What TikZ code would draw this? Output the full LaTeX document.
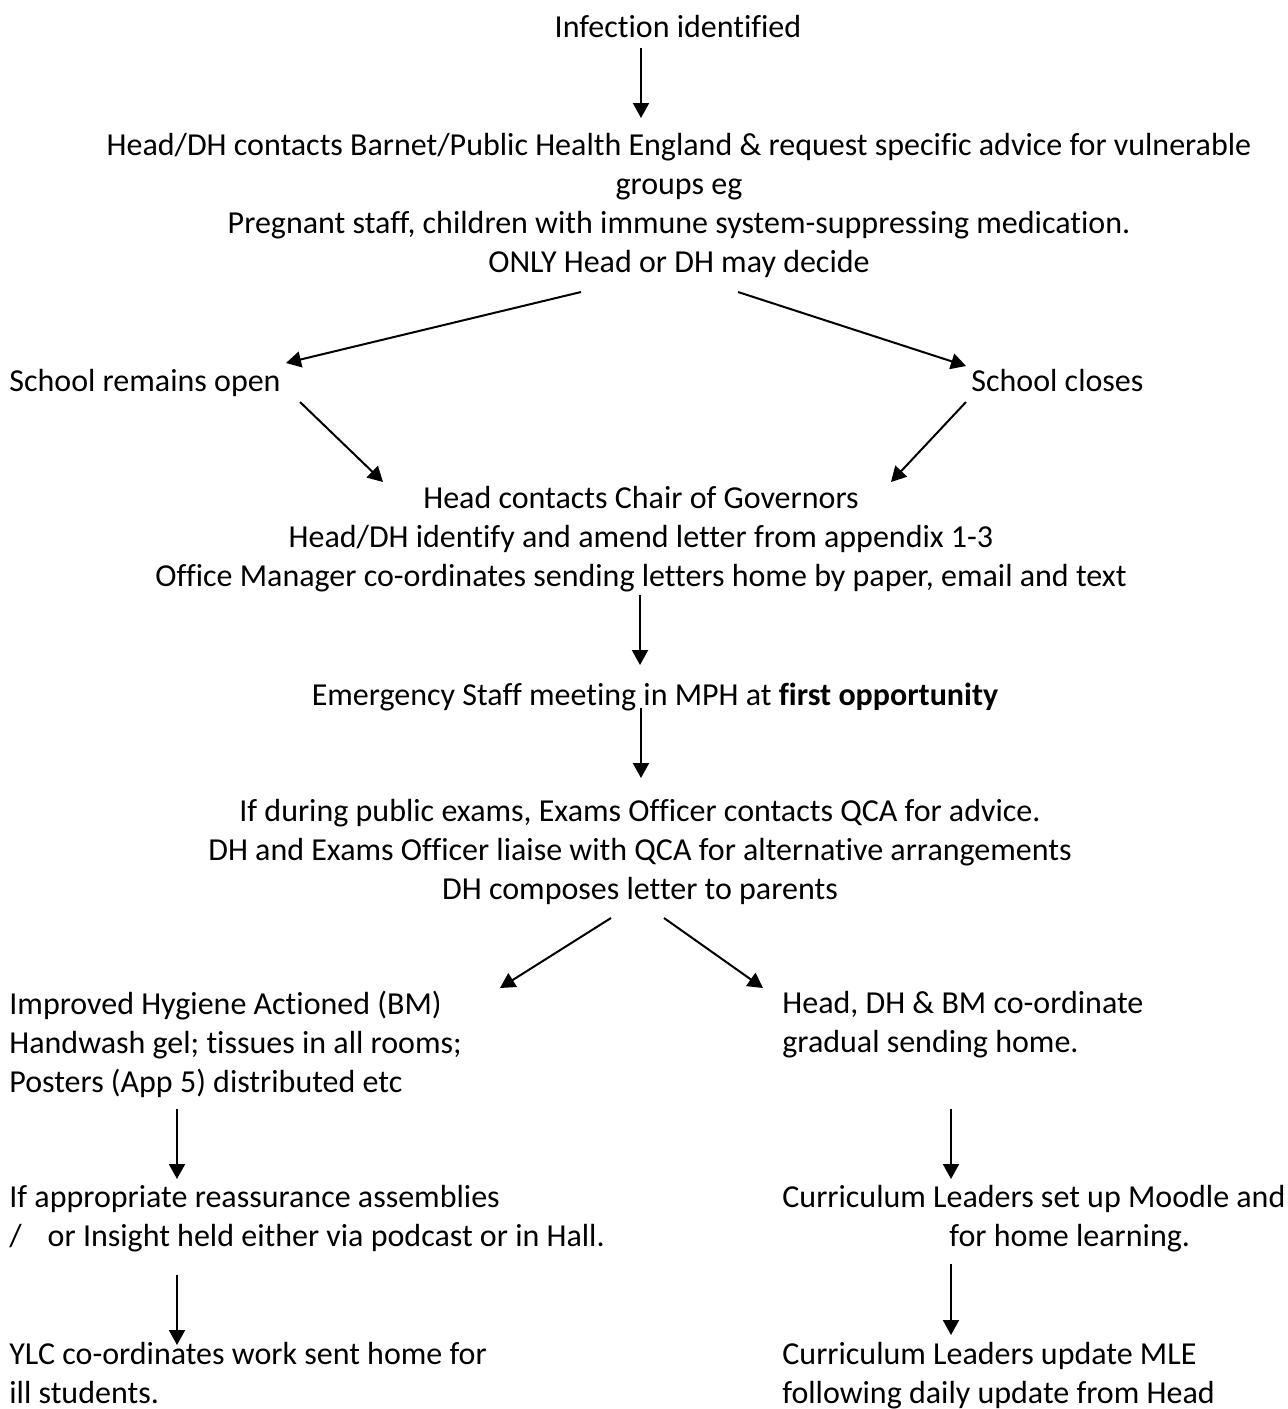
\documentclass[tikz,border=0pt]{standalone}
\usepackage{fontspec}
\setmainfont{Carlito}[Ligatures=CommonOff]
\usetikzlibrary{arrows.meta,calc}

\begin{document}
\begin{tikzpicture}[x=0.5pt, y=-0.5pt,
  txt/.style = {inner sep=0pt, anchor=base, align=center, font=\fontsize{16pt}{19.5pt}\selectfont},
  lft/.style = {txt, anchor=base west, align=left},
  arr/.style = {line width=1pt, -{Triangle[length=7.5pt, width=8pt]}}]
\useasboundingbox (0,0) rectangle (1287,1409);
% base of a multi-line node = baseline of its last line
\node[txt] (infect) at (678,37) {Infection identified};
\node[txt] (contact) at (679,272) {Head/DH contacts Barnet/Public Health England \& request specific advice for vulnerable\\ groups eg\\ Pregnant staff, children with immune system-suppressing medication.\\ ONLY Head or DH may decide};
\node[lft] (open) at (9,391) {School remains open};
\node[lft] (closes) at (971,391) {School closes};
\node[txt] (governors) at (641,586) {Head contacts Chair of Governors\\ Head/DH identify and amend letter from appendix 1-3\\ Office Manager co-ordinates sending letters home by paper, email and text};
\node[txt] (meeting) at (655,705) {Emergency Staff meeting in MPH at \textbf{first opportunity}};
\node[txt] (exams) at (640,899) {If during public exams, Exams Officer contacts QCA for advice.\\ DH and Exams Officer liaise with QCA for alternative arrangements\\ DH composes letter to parents};
\node[lft] (hygiene) at (9,1092) {Improved Hygiene Actioned (BM)\\ Handwash gel; tissues in all rooms;\\ Posters (App 5) distributed etc};
\node[lft] (sending) at (782,1052) {Head, DH \& BM co-ordinate\\ gradual sending home.};
\node[lft] (assembly) at (9,1246) {If appropriate reassurance assemblies\\ /\hspace*{13pt}or Insight held either via podcast or in Hall.};
\node[lft] (moodle) at (782,1246) {Curriculum Leaders set up Moodle and\\ \hspace*{83.5pt}for home learning.};
\node[lft] (ylc) at (9,1403) {YLC co-ordinates work sent home for\\ ill students.};
\node[lft] (mle) at (782,1403) {Curriculum Leaders update MLE\\ following daily update from Head};

\draw[arr] ($(infect.base)+(-37,11)$) -- ($(contact.base)+(-38,-154)$);
\draw[arr] ($(contact.base)+(-98,20)$) -- ($(open.base west)+(277,-28)$);
\draw[arr] ($(contact.base)+(59,20)$) -- ($(closes.base west)+(-5,-25)$);
\draw[arr] ($(open.base west)+(291,11)$) -- ($(governors.base)+(-258,-104)$);
\draw[arr] ($(closes.base west)+(-5,11)$) -- ($(governors.base)+(250,-104)$);
\draw[arr] ($(governors.base)+(-1,9)$) -- ($(meeting.base)+(-15,-40)$);
\draw[arr] ($(meeting.base)+(-14,3)$) -- ($(exams.base)+(1,-121)$);
\draw[arr] ($(exams.base)+(-29,19)$) -- ($(hygiene.base west)+(491,-104)$);
\draw[arr] ($(exams.base)+(24,19)$) -- ($(sending.base west)+(-19,-64)$);
\draw[arr] ($(hygiene.base west)+(168,17)$) -- ($(assembly.base west)+(168,-67)$);
\draw[arr] ($(sending.base west)+(169,57)$) -- ($(moodle.base west)+(169,-67)$);
\draw[arr] ($(assembly.base west)+(168,29)$) -- ($(ylc.base west)+(168,-58)$);
\draw[arr] ($(moodle.base west)+(169,18)$) -- ($(mle.base west)+(169,-68)$);
\end{tikzpicture}
\end{document}
